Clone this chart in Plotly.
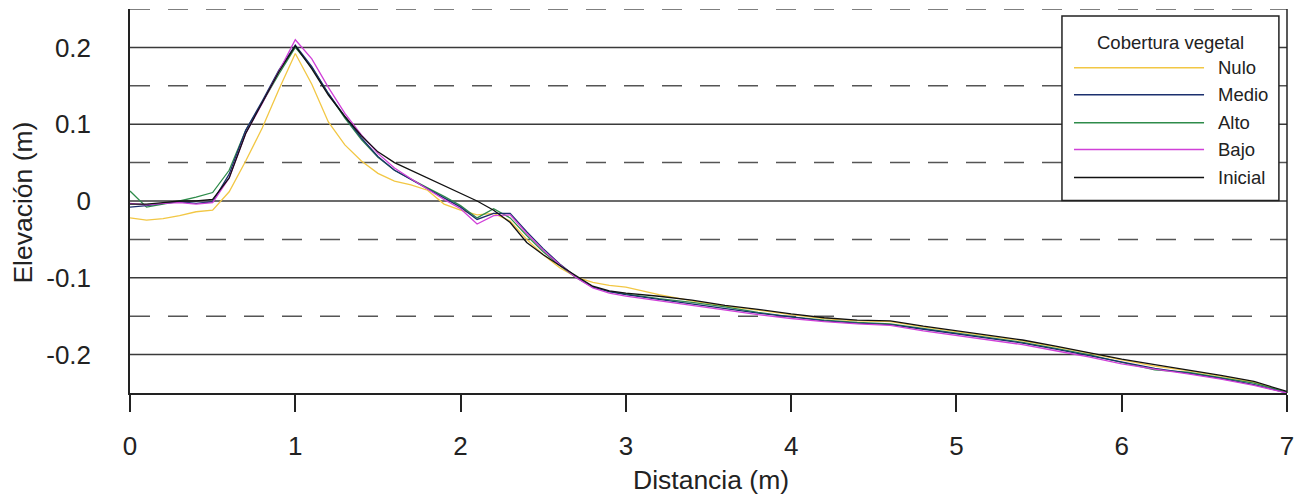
import plotly.graph_objects as go

distancia = [0.0, 0.1, 0.2, 0.3, 0.4, 0.5, 0.6, 0.7, 0.8, 0.9,
             1.0, 1.1, 1.2, 1.3, 1.4, 1.5, 1.6, 1.7, 1.8, 1.9,
             2.0, 2.1, 2.2, 2.3, 2.4, 2.5, 2.6, 2.7, 2.8, 2.9, 3.0,
             3.2, 3.4, 3.6, 3.8, 4.0, 4.2, 4.4, 4.6, 4.8, 5.0,
             5.2, 5.4, 5.6, 5.8, 6.0, 6.2, 6.4, 6.6, 6.8, 7.0]

nulo = [-0.022, -0.025, -0.023, -0.019, -0.014, -0.012, 0.012, 0.052, 0.095, 0.145,
        0.192, 0.152, 0.103, 0.073, 0.052, 0.036, 0.026, 0.021, 0.014, -0.004,
        -0.012, -0.018, -0.016, -0.026, -0.050, -0.070, -0.087, -0.099, -0.106, -0.110, -0.112,
        -0.122, -0.130, -0.137, -0.142, -0.148, -0.153, -0.156, -0.157, -0.164, -0.170,
        -0.176, -0.182, -0.190, -0.198, -0.207, -0.215, -0.221, -0.228, -0.236, -0.249]

medio = [-0.008, -0.006, -0.003, -0.001, -0.003, -0.001, 0.035, 0.092, 0.130, 0.170,
         0.203, 0.175, 0.140, 0.110, 0.082, 0.058, 0.040, 0.028, 0.016, 0.004,
         -0.008, -0.024, -0.016, -0.016, -0.040, -0.062, -0.082, -0.099, -0.112, -0.118, -0.122,
         -0.128, -0.134, -0.140, -0.146, -0.151, -0.156, -0.159, -0.161, -0.167, -0.173,
         -0.179, -0.185, -0.193, -0.201, -0.210, -0.218, -0.224, -0.231, -0.239, -0.250]

alto = [0.013, -0.008, -0.004, 0.000, 0.005, 0.011, 0.040, 0.092, 0.128, 0.165,
        0.200, 0.174, 0.140, 0.108, 0.080, 0.057, 0.040, 0.028, 0.017, 0.006,
        -0.006, -0.022, -0.010, -0.022, -0.045, -0.066, -0.084, -0.100, -0.112, -0.118, -0.121,
        -0.127, -0.132, -0.138, -0.145, -0.151, -0.155, -0.158, -0.160, -0.166, -0.172,
        -0.178, -0.184, -0.192, -0.200, -0.210, -0.220, -0.223, -0.230, -0.237, -0.249]

bajo = [-0.003, -0.005, -0.003, -0.002, -0.004, -0.002, 0.030, 0.088, 0.127, 0.168,
        0.210, 0.185, 0.148, 0.114, 0.086, 0.062, 0.043, 0.029, 0.015, 0.002,
        -0.010, -0.030, -0.019, -0.018, -0.042, -0.064, -0.083, -0.100, -0.113, -0.120, -0.124,
        -0.130, -0.136, -0.142, -0.148, -0.153, -0.157, -0.160, -0.162, -0.169, -0.175,
        -0.181, -0.187, -0.195, -0.203, -0.212, -0.219, -0.225, -0.232, -0.240, -0.250]

inicial = [-0.004, -0.004, -0.002, 0.000, 0.000, 0.002, 0.030, 0.088, 0.128, 0.168,
           0.202, 0.172, 0.138, 0.110, 0.085, 0.064, 0.050, 0.040, 0.030, 0.020,
           0.010, 0.000, -0.012, -0.028, -0.054, -0.070, -0.084, -0.098, -0.111, -0.117, -0.120,
           -0.124, -0.129, -0.136, -0.141, -0.147, -0.152, -0.155, -0.156, -0.163, -0.169,
           -0.175, -0.181, -0.189, -0.197, -0.206, -0.213, -0.220, -0.227, -0.235, -0.248]

series_names = ["Nulo", "Medio", "Alto", "Bajo", "Inicial"]
series_values = [nulo, medio, alto, bajo, inicial]
series_colors = ["#F2C744", "#1B2F6E", "#2E8B4A", "#D040D8", "#111111"]
draw_order = ["Nulo", "Alto", "Medio", "Bajo", "Inicial"]

x_ticks = [0, 1, 2, 3, 4, 5, 6, 7]
y_ticks = [-0.2, -0.1, 0, 0.1, 0.2]
y_tick_text = ["-0.2", "-0.1", "0", "0.1", "0.2"]
solid_grid = [0.2, 0.1, 0.0, -0.1, -0.2]
dashed_grid = [0.25, 0.15, 0.05, -0.05, -0.15]

FONT = "Liberation Sans, Arial, sans-serif"

fig = go.Figure()
lookup = dict(zip(series_names, zip(series_values, series_colors)))
for name in draw_order:
    vals, col = lookup[name]
    fig.add_trace(go.Scatter(x=distancia, y=vals, mode="lines", name=name,
                             line=dict(color=col, width=1.3), showlegend=False))

shapes = []
for yv in solid_grid:
    shapes.append(dict(type="line", xref="paper", yref="y", x0=0, x1=1, y0=yv, y1=yv,
                       line=dict(color="#3a3a3a", width=1.5), layer="below"))
for yv in dashed_grid:
    shapes.append(dict(type="line", xref="paper", yref="y", x0=0, x1=1, y0=yv, y1=yv,
                       line=dict(color="#555555", width=1.5, dash="20px,18px"), layer="below"))
# right border
shapes.append(dict(type="line", xref="paper", yref="paper", x0=1, x1=1, y0=0, y1=1,
                   line=dict(color="#222222", width=1.5)))

# custom legend
lx0, lx1, ly0, ly1 = 0.8055, 0.993, 0.501, 0.982
shapes.append(dict(type="rect", xref="paper", yref="paper", x0=lx0, x1=lx1, y0=ly0, y1=ly1,
                   fillcolor="white", line=dict(color="#222222", width=1.5), layer="above"))
entry_y = [0.847, 0.777, 0.704, 0.634, 0.561]
annotations = [dict(text="Cobertura vegetal", xref="paper", yref="paper", x=0.899, y=0.914,
                    showarrow=False, xanchor="center", yanchor="middle",
                    font=dict(family=FONT, size=18.5, color="#222222"))]
for name, col, ey in zip(series_names, series_colors, entry_y):
    shapes.append(dict(type="line", xref="paper", yref="paper", x0=0.8159, x1=0.9283, y0=ey, y1=ey,
                       line=dict(color=col, width=1.5), layer="above"))
    annotations.append(dict(text=name, xref="paper", yref="paper", x=0.9385, y=ey,
                            showarrow=False, xanchor="left", yanchor="middle",
                            font=dict(family=FONT, size=18.5, color="#222222")))

annotations.append(dict(text="Distancia (m)", xref="paper", yref="paper", x=0.502, y=-0.2266,
                        showarrow=False, xanchor="center", yanchor="middle",
                        font=dict(family=FONT, size=26.5, color="#222222")))
annotations.append(dict(text="Elevación (m)", xref="paper", yref="paper", x=-0.0933, y=0.496,
                        showarrow=False, xanchor="center", yanchor="middle", textangle=-90,
                        font=dict(family=FONT, size=26.5, color="#222222")))

fig.update_layout(
    width=1294, height=491,
    margin=dict(l=122, r=15, t=1, b=106),
    paper_bgcolor="white", plot_bgcolor="white",
    shapes=shapes, annotations=annotations,
    xaxis=dict(range=[0, 7], tickvals=x_ticks, ticktext=[str(v) for v in x_ticks],
               showgrid=False, zeroline=False, showline=True, linecolor="#222222", linewidth=1.5,
               ticks="outside", ticklen=17, tickwidth=1.5, tickcolor="#222222",
               ticklabelstandoff=12,
               tickfont=dict(family=FONT, size=26, color="#222222")),
    yaxis=dict(range=[-0.25, 0.25], tickvals=y_ticks, ticktext=y_tick_text,
               showgrid=False, zeroline=False, showline=True, linecolor="#222222", linewidth=1.5,
               ticks="", ticklabelstandoff=32,
               tickfont=dict(family=FONT, size=26, color="#222222")),
)

fig.write_html("out.html")
